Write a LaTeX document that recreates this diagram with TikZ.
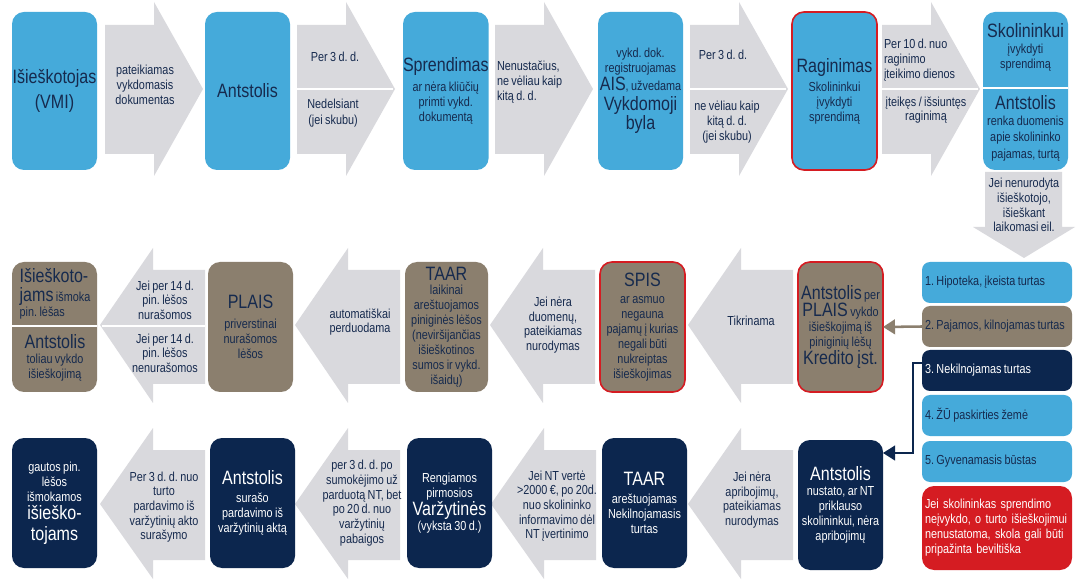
\documentclass[tikz,border=0pt]{standalone}
\usepackage{fontspec}
\setmainfont{Liberation Sans}[FakeStretch=0.83, WordSpace=0.8]
\usetikzlibrary{arrows.meta,calc}
\hyphenpenalty=10000
\exhyphenpenalty=10000
\frenchspacing

\definecolor{skyblue}{RGB}{69,170,218}
\definecolor{taupe}{RGB}{139,127,110}
\definecolor{navy}{RGB}{12,38,78}
\definecolor{ink}{RGB}{22,42,78}
\definecolor{chevgray}{RGB}{217,217,221}
\definecolor{alertred}{RGB}{213,28,34}

\newcommand\bigtxt[1]{{\fontsize{14.5}{16}\selectfont #1}}
\newcommand\rowtxt[1]{\makebox[108pt][l]{#1}}

\tikzset{
  card/.style={rounded corners=9pt, anchor=north west, minimum width=63.75pt,
    align=center, text=ink, font=\fontsize{9.8}{11.2}\selectfont},
  tallcard/.style={card, minimum height=118.5pt},
  midcard/.style={card, minimum height=97.5pt},
  redrim/.style={draw=alertred, line width=1.2pt},
  chev/.style={fill=chevgray},
  chevtxt/.style={align=center, text=ink, font=\fontsize{9.8}{11}\selectfont},
  listitem/.style={rounded corners=6pt, anchor=north west, minimum width=112.5pt,
    minimum height=30.75pt, text=ink, font=\fontsize{9.8}{11.2}\selectfont},
  split/.style={draw=white, line width=1.1pt},
}

\begin{document}
\begin{tikzpicture}[y=0.75pt, x=0.75pt, yscale=-1, inner sep=0pt, outer sep=0pt]
\useasboundingbox[fill=white] (0,0) rectangle (1084,580);

% chevrons, top row (to the right)
\foreach \l in {105,297,495,690,882}
  \fill[chev] (\l,25) -- (\l+49,25) -- (\l+49,2) -- (\l+98,89) -- (\l+49,176)
    -- (\l+49,154) -- (\l,154) -- cycle;
\foreach \l in {297,690,882}
  \draw[split] (\l,89) -- (\l+96,89);
% down
\fill[chev] (985,172) -- (1062,172) -- (1062,227) -- (1075,227) -- (1024,258)
  -- (973,227) -- (985,227) -- cycle;
% middle row (to the left)
\foreach \r in {793,595,400,205}
  \fill[chev] (\r,270) -- (\r-52,270) -- (\r-52,248) -- (\r-105,325) -- (\r-52,403)
    -- (\r-52,384) -- (\r,384) -- cycle;
\draw[split] (205,326) -- (102,326);
% bottom row
\foreach \r in {793,596,400,205}
  \fill[chev] (\r,450) -- (\r-52,450) -- (\r-52,428) -- (\r-105,504) -- (\r-52,579)
    -- (\r-52,560) -- (\r,560) -- cycle;

% top row
\node[tallcard, fill=skyblue, font=\fontsize{14.5}{18.5}\selectfont] (vmi) at (12,12) {Išieškotojas\\(VMI)};
\node[tallcard, fill=skyblue, font=\fontsize{14.5}{16}\selectfont] (ants1) at (205,12) {Antstolis};
\node[tallcard, fill=skyblue] (spr) at (403,12) {\bigtxt{Sprendimas}\\[4pt]ar nėra kliūčių\\primti vykd.\\dokumentą};
\node[tallcard, fill=skyblue] (ais) at (598,12) {vykd. dok.\\registruojamas\\\bigtxt{AIS}, užvedama\\[2pt]\bigtxt{Vykdomoji}\\\bigtxt{byla}};
\node[tallcard, fill=skyblue, redrim] (rag) at (792,12) {\bigtxt{Raginimas}\\[3pt]Skolininkui\\įvykdyti\\sprendimą};
\node[tallcard, fill=skyblue] (skol) at (983,12) {};
\draw[split] (skol.west |- 0,88) -- (skol.east |- 0,88);
\node[card, anchor=center] (skolt) at (1025.5,47) {\bigtxt{Skolininkui}\\[1pt]įvykdyti\\sprendimą};
\node[card, anchor=center, font=\fontsize{9.8}{12.2}\selectfont] (skolb) at (1025.5,128) {\bigtxt{Antstolis}\\renka duomenis\\apie skolininko\\pajamas, turtą};

\node[chevtxt] (a1t) at (145,85) {pateikiamas\\vykdomasis\\dokumentas};
\node[chevtxt] (a2top) at (335,57) {Per 3 d. d.};
\node[chevtxt, font=\fontsize{9.8}{12.5}\selectfont] (a2bot) at (333,113) {Nedelsiant\\(jei skubu)};
\node[chevtxt, align=left, anchor=west] (a3t) at (497,82) {Nenustačius,\\ne vėliau kaip\\kitą d. d.};
\node[chevtxt] (a4top) at (723,55) {Per 3 d. d.};
\node[chevtxt] (a4bot) at (727,122) {ne vėliau kaip\\kitą d. d.\\(jei skubu)};
\node[chevtxt, align=left, anchor=west] (a5top) at (884,60) {Per 10 d. nuo\\raginimo\\įteikimo dienos};
\node[chevtxt] (a5bot) at (926,110) {įteikęs / išsiuntęs\\raginimą};
\node[chevtxt] (downt) at (1024,205) {Jei nenurodyta\\išieškotojo,\\išieškant\\laikomasi eil.};

% middle row
\node[midcard, fill=taupe] (isk) at (12,262) {};
\draw[split] (isk.west |- 0,326) -- (isk.east |- 0,326);
\node[card, anchor=center, align=left] (iskt) at (55,294) {\bigtxt{Išieškoto-}\\[3pt]\bigtxt{jams} išmoka\\pin. lėšas};
\node[card, anchor=center] (iskb) at (55,358) {\bigtxt{Antstolis}\\toliau vykdo\\išieškojimą};
\node[midcard, fill=taupe] (plais) at (208,262) {\bigtxt{PLAIS}\\[4pt]priverstinai\\nurašomos\\lėšos};
\node[midcard, fill=taupe, minimum width=62.25pt] (taar1) at (405,262) {\bigtxt{TAAR}\\laikinai\\areštuojamos\\piniginės lėšos\\(neviršijančias\\išieškotinos\\sumos ir vykd.\\išaidų)};
\node[midcard, fill=taupe, redrim] (spis) at (600,262) {\bigtxt{SPIS}\\[2pt]ar asmuo\\negauna\\pajamų į kurias\\negali būti\\nukreiptas\\išieškojimas};
\node[midcard, fill=taupe, redrim] (antpl) at (798,262) {\bigtxt{Antstolis} per\\\bigtxt{PLAIS} vykdo\\išieškojimą iš\\piniginių lėšų\\\bigtxt{Kredito įst.}};

\node[chevtxt] (c4top) at (165,300) {Jei per 14 d.\\pin. lėšos\\nurašomos};
\node[chevtxt] (c4bot) at (165,353) {Jei per 14 d.\\pin. lėšos\\nenurašomos};
\node[chevtxt] (c3t) at (360,322) {automatiškai\\perduodama};
\node[chevtxt] (c2t) at (553,325) {Jei nėra\\duomenų,\\pateikiamas\\nurodymas};
\node[chevtxt] (c1t) at (751,321) {Tikrinama};

% bottom row
\node[midcard, fill=navy, text=white] (gaut) at (12,438) {gautos pin.\\lėšos\\išmokamos\\[3pt]\bigtxt{išieško-}\\[4pt]\bigtxt{tojams}};
\node[midcard, fill=navy, text=white] (ants3) at (210,438) {\bigtxt{Antstolis}\\[2pt]surašo\\pardavimo iš\\varžytinių aktą};
\node[midcard, fill=navy, text=white] (varz) at (407,438) {Rengiamos\\pirmosios\\\bigtxt{Varžytinės}\\(vyksta 30 d.)};
\node[midcard, fill=navy, text=white] (taar2) at (602,438) {\bigtxt{TAAR}\\[2pt]areštuojamas\\Nekilnojamasis\\turtas};
\node[midcard, fill=navy, text=white] (ants2) at (798,440) {\bigtxt{Antstolis}\\nustato, ar NT\\priklauso\\skolininkui, nėra\\apribojimų};

\node[chevtxt] (d1t) at (752,500) {Jei nėra\\apribojimų,\\pateikiamas\\nurodymas};
\node[chevtxt] (d2t) at (557,506) {Jei NT vertė\\>2000 €, po 20d.\\nuo skolininko\\informavimo dėl\\NT įvertinimo};
\node[chevtxt] (d3t) at (362,503) {per 3 d. d. po\\sumokėjimo už\\parduotą NT, bet\\po 20 d. nuo\\varžytinių\\pabaigos};
\node[chevtxt] (d4t) at (164,507) {Per 3 d. d. nuo\\turto\\pardavimo iš\\varžytinių akto\\surašymo};

% list of property
\node[listitem, fill=skyblue] (it1) at (922,262) {\rowtxt{1. Hipoteka, įkeista turtas}};
\node[listitem, fill=taupe] (it2) at (922,306) {\rowtxt{2. Pajamos, kilnojamas turtas}};
\node[listitem, fill=navy, text=white] (it3) at (922,350) {\rowtxt{3. Nekilnojamas turtas}};
\node[listitem, fill=skyblue] (it4) at (922,395) {\rowtxt{4. ŽŪ paskirties žemė}};
\node[listitem, fill=skyblue] (it5) at (922,441) {\rowtxt{5. Gyvenamasis būstas}};
\node[listitem, fill=alertred, text=white, rounded corners=9pt, minimum height=63pt,
  text width=108pt, align=left] (bevilt) at (922,486) {Jei skolininkas sprendimo\\neįvykdo, o turto išieškojimui\\nenustatoma, skola gali būti\\pripažinta beviltiška};

\draw[draw=taupe, line width=1.9pt, -{Triangle[length=9pt,width=11pt]}] (it2.west) -- (antpl.east);
\draw[draw=navy, line width=1.5pt, -{Triangle[length=9pt,width=11pt]}]
  ($(it3.west)+(0,-7)$) -- ++(-9,0) |- ($(ants2.north east)+(0,13)$);

\end{tikzpicture}
\end{document}
